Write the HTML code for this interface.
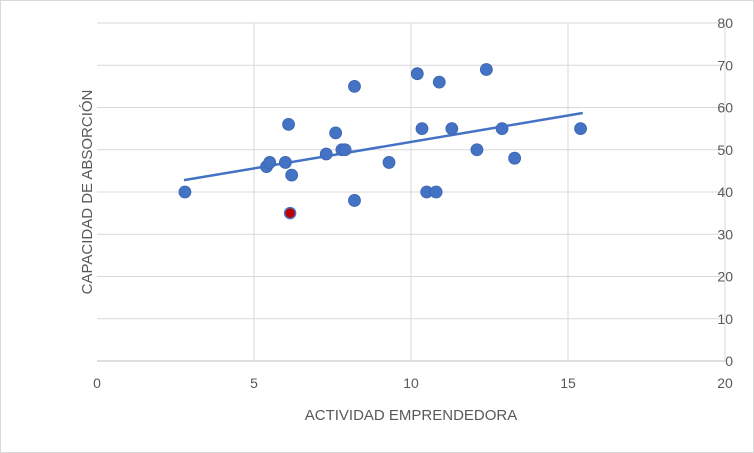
<!DOCTYPE html>
<html><head><meta charset="utf-8"><style>
body{margin:0;background:#fff;}
svg{display:block;font-family:"Liberation Sans",sans-serif;}
</style></head><body>
<svg id="chart" width="754" height="453">
<rect x="0.5" y="0.5" width="753" height="452" fill="#fff" stroke="#d9d9d9"/>
<g id="grid"></g><g id="ticks"></g><g id="marks"></g>
<text x="411" y="420" text-anchor="middle" font-size="15" fill="#595959">ACTIVIDAD EMPRENDEDORA</text>
<text transform="translate(92,192) rotate(-90)" text-anchor="middle" font-size="15" fill="#595959">CAPACIDAD DE ABSORCIÓN</text>
</svg>
<script>
const xVals=[2.8,5.4,5.5,6.0,6.1,6.2,7.3,7.6,7.8,7.9,8.2,8.2,9.3,10.2,10.35,10.5,10.8,10.9,11.3,12.1,12.4,12.9,13.3,15.4];
const yVals=[40,46,47,47,56,44,49,54,50,50,65,38,47,68,55,40,40,66,55,50,69,55,48,55];
const highlightX=[6.15];
const highlightY=[35];
const trendX=[2.77,15.47];
const trendY=[42.8,58.7];
const xTicks=[0,5,10,15,20];
const yTicks=[0,10,20,30,40,50,60,70,80];
const NS="http://www.w3.org/2000/svg";
const sx=v=>97+v*31.4, sy=v=>361-v*4.225;
function mk(t,a,p){const e=document.createElementNS(NS,t);for(const k in a)e.setAttribute(k,a[k]);p.appendChild(e);return e;}
const grid=document.getElementById('grid'),ticks=document.getElementById('ticks'),marks=document.getElementById('marks');
yTicks.forEach(v=>{
 const l=mk('line',{x1:97,x2:725,y1:sy(v),y2:sy(v),stroke:v===0?'#bfbfbf':'#d9d9d9','stroke-width':1},grid);
 
 
 const t=mk('text',{x:733,y:sy(v)+5,'font-size':14,fill:'#595959','text-anchor':'end'},ticks);t.textContent=v;
 
 
});
xTicks.forEach(v=>{
 if(v>0){const l=mk('line',{x1:sx(v),x2:sx(v),y1:sy(80),y2:sy(0),stroke:'#d9d9d9'},grid);
 
 }
 const t=mk('text',{x:sx(v),y:388,'font-size':14,fill:'#595959','text-anchor':'middle'},ticks);t.textContent=v;
 
 
});
const tl=mk('line',{x1:sx(trendX[0]),y1:sy(trendY[0]),x2:sx(trendX[1]),y2:sy(trendY[1]),stroke:'#4472c4','stroke-width':2.5},marks);


xVals.forEach((x,i)=>{
 const c=mk('circle',{cx:sx(x),cy:sy(yVals[i]),r:6,fill:'#4472c4',stroke:'#3a64ad','stroke-width':0.8},marks);
 
 
});
highlightX.forEach((x,i)=>{
 const c=mk('circle',{cx:sx(x),cy:sy(highlightY[i]),r:5.5,fill:'#c00000',stroke:'#4472c4','stroke-width':1.5},marks);
 
 
});
</script>
</body></html>
